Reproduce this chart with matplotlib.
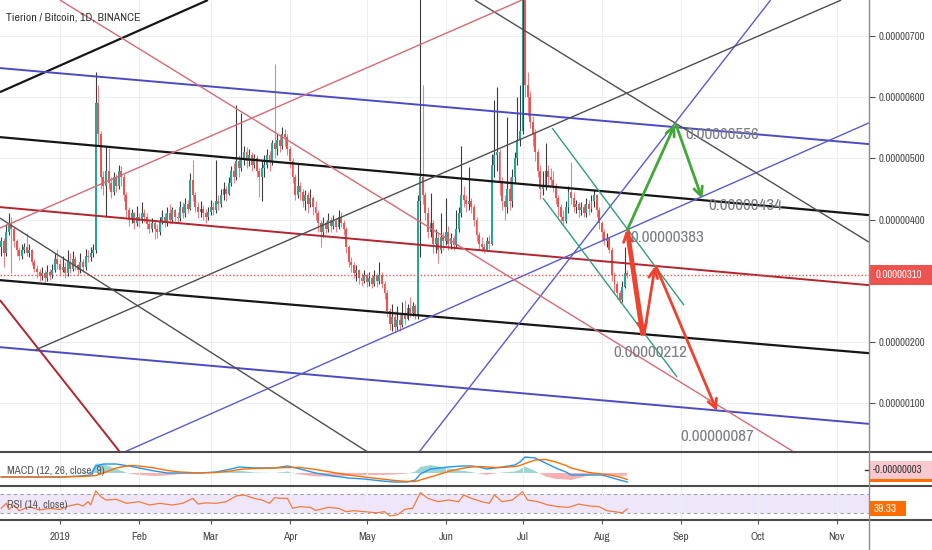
import numpy as np
import pandas as pd
import matplotlib
matplotlib.use("Agg")
import matplotlib.pyplot as plt
import matplotlib.transforms as mtransforms
from matplotlib.lines import Line2D
from matplotlib.patches import Rectangle
from matplotlib import font_manager

# prices are in satoshi (1 = 0.00000001 BTC), one candle per day
start_date = "2018-12-09"
first_open = 355
close = [365, 345, 380, 395, 385, 365, 350, 340, 350, 355, 345, 350, 330, 320, 315, 308, 312, 305, 315, 310, 318, 335, 328,
         318, 322, 312, 330, 320, 335, 325, 318, 330, 322, 340, 338, 345, 350,
         590, 540, 470, 455, 480, 460, 445, 470, 455, 480, 470, 440, 415, 400, 410, 395,
         405, 398, 410, 405, 392, 385, 395, 385, 380, 398, 405, 395, 410, 400, 415, 405, 402, 420, 410, 425,
         418, 465, 440, 420, 412, 418, 410, 405, 412, 420, 415, 430, 425, 440, 450, 442, 460, 480, 470, 495,
         485, 500, 510, 495, 505, 490, 500, 480, 470, 485, 490, 505, 495, 525, 515, 530, 520, 540, 535, 515,
         495, 470, 440, 455, 445, 430, 440, 425, 435, 420, 410, 395, 380, 395, 385, 400, 390, 398, 388, 405,
         395, 385, 355, 330, 325, 312, 318, 305, 300, 310, 298, 305, 295, 308, 300, 310, 295, 280, 250, 230,
         240, 225, 235, 228, 245, 238, 255, 248, 258, 245, 430, 470, 440, 410, 380, 395, 360, 370, 350, 372,
         365, 380, 360, 370, 358, 385, 410, 440, 432, 425, 430, 420, 400, 375, 360, 355, 350, 365, 360, 490,
         505, 510, 460, 430, 420, 450, 430, 470, 500, 530, 545, 790, 620, 600, 560, 540, 510, 480, 450, 455,
         480, 470, 465, 455, 435, 420, 405, 398, 420, 445, 435, 420, 425, 415, 420, 410, 425, 418, 430, 440,
         415, 395, 380, 365, 370, 350, 310, 295, 280, 268, 290, 312, 310]
high = [372, 370, 392, 410, 404, 388, 368, 355, 360, 362, 378, 360, 352, 335, 325, 320, 322, 318, 325, 320, 328, 345, 352,
        335, 340, 330, 350, 345, 348, 340, 328, 345, 336, 352, 350, 355, 360,
        641, 620, 545, 480, 518, 517, 470, 478, 475, 490, 488, 475, 445, 420, 418, 412,
        422, 410, 428, 418, 410, 398, 402, 398, 392, 405, 416, 410, 420, 425, 420, 418, 412, 430, 428, 436,
        432, 476, 497, 445, 428, 430, 424, 418, 420, 432, 428, 497, 440, 450, 462, 455, 470, 488, 492, 587,
        505, 574, 520, 518, 515, 510, 508, 505, 485, 495, 505, 515, 512, 530, 655, 540, 540, 551, 548, 540,
        520, 500, 475, 492, 462, 450, 448, 445, 450, 438, 430, 415, 400, 405, 398, 410, 404, 408, 402, 415,
        412, 400, 388, 358, 338, 330, 326, 320, 312, 318, 312, 315, 310, 318, 312, 330, 315, 300, 285, 255,
        262, 250, 258, 245, 265, 268, 262, 273, 265, 262, 440, 900, 620, 445, 420, 443, 400, 385, 378, 410,
        380, 435, 390, 378, 375, 415, 420, 521, 455, 440, 486, 435, 425, 405, 380, 372, 362, 372, 375, 508,
        595, 617, 515, 470, 440, 568, 470, 482, 510, 600, 620, 800, 795, 641, 610, 570, 548, 515, 490, 480,
        525, 490, 485, 480, 460, 440, 425, 415, 430, 455, 494, 445, 432, 428, 428, 425, 435, 432, 440, 448,
        442, 420, 398, 385, 378, 372, 355, 315, 300, 285, 300, 355, 318]
low = [340, 322, 340, 375, 312, 355, 340, 334, 336, 345, 340, 338, 325, 315, 305, 300, 302, 298, 300, 302, 305, 315, 320,
       310, 315, 305, 308, 312, 316, 318, 310, 312, 315, 318, 330, 332, 338,
       345, 520, 450, 440, 405, 450, 435, 440, 445, 450, 455, 430, 405, 390, 395, 385,
       390, 388, 395, 396, 385, 378, 380, 368, 370, 375, 392, 388, 390, 392, 395, 398, 395, 398, 402, 405,
       410, 415, 430, 412, 402, 405, 400, 395, 400, 408, 408, 410, 415, 420, 432, 430, 440, 455, 460, 465,
       470, 480, 490, 485, 488, 480, 485, 470, 437, 430, 470, 485, 480, 490, 500, 505, 510, 515, 520, 505,
       485, 460, 432, 435, 432, 420, 415, 410, 420, 408, 400, 380, 355, 372, 378, 380, 380, 385, 380, 385,
       388, 375, 345, 322, 315, 305, 300, 295, 292, 296, 290, 292, 288, 292, 290, 295, 288, 270, 240, 220,
       218, 216, 220, 218, 225, 230, 235, 240, 242, 238, 238, 339, 425, 400, 370, 372, 345, 345, 329, 345,
       350, 358, 350, 352, 350, 355, 380, 405, 420, 412, 415, 410, 390, 365, 350, 348, 345, 348, 352, 358,
       470, 480, 440, 415, 400, 410, 415, 420, 460, 490, 520, 540, 600, 570, 550, 520, 495, 470, 433, 440,
       448, 455, 455, 445, 425, 405, 392, 390, 395, 410, 425, 412, 410, 405, 408, 405, 405, 408, 412, 420,
       405, 385, 365, 358, 355, 345, 300, 280, 270, 263, 265, 288, 305]

month_labels = ["2019", "Feb", "Mar", "Apr", "May", "Jun", "Jul", "Aug", "Sep", "Oct", "Nov"]
price_ticks = [100, 200, 300, 400, 500, 600, 700]
last_price = 310

# drawn trend lines: (day, price) -> (day, price), day 0 = 2019-01-01
trend_lines = [((-23.5, 608.4), (57.9, 758.9)),
               ((-23.5, 647.7), (316.6, 523.4)),
               ((-23.5, 534.8), (316.6, 407.3)),
               ((-23.5, 420.4), (316.6, 292.8)),
               ((-23.5, 301.0), (316.6, 181.6)),
               ((-23.5, 191.4), (316.6, 66.0)),
               ((-23.5, 268.3), (23.5, 19.7)),
               ((23.5, 16.8), (316.6, 558.2)),
               ((140.5, 19.7), (278.1, 758.9)),
               ((-9.8, 186.5), (305.7, 758.9)),
               ((-23.5, 402.4), (120.5, 19.7)),
               ((162.4, 758.9), (316.6, 363.1)),
               ((0.0, 758.9), (287.3, 19.7)),
               ((-23.5, 386.0), (180.8, 758.9)),
               ((189.0, 435.1), (241.5, 142.4)),
               ((192.6, 549.6), (244.2, 260.1))]
trend_kinds = ["black", "blue", "black", "darkred", "black", "blue", "darkred", "blue_thin",
               "blue_thin", "gray", "gray", "gray", "pink", "pink", "green", "green"]

red_arrows = [((227.6, 212), (221.6, 383)), ((222.4, 383), (228.5, 212)),
              ((228.6, 212), (232.9, 324)), ((233.2, 324), (257.1, 87))]
green_arrows = [((222.0, 383), (240.7, 556)), ((241.0, 556), (251.3, 434))]
target_prices = [556, 434, 383, 212, 87]
target_label_at = [(244.7, 539), (253.6, 423.6), (223.1, 371.3), (216.4, 183.3), (242.7, 45.9)]

macd_days = [-23, -12, 0, 8, 12, 14, 17, 22, 27, 31, 37, 42, 47, 55, 61, 67, 70, 76, 84, 89, 94, 100,
             107, 113, 119, 126, 131, 136, 139, 141, 145, 152, 157, 161, 164, 167, 170, 173, 178, 180,
             182, 186, 190, 194, 198, 200, 207, 212, 215, 219, 222]
macd_line = [-8, -8, -8, -6, -4, 14, 18, 18, 14, 10, 4, 0, 0, 0, 2, 8, 12, 10, 10, 14, 8, 0,
             -6, -10, -12, -16, -18, -18, -14, -2, 8, 12, 14, 14, 12, 8, 10, 12, 16, 22,
             32, 30, 20, 10, 2, -4, -4, -4, -8, -14, -18]
macd_signal = [-8, -8, -8, -7, -6, -5, 0, 10, 15, 14, 10, 5, 2, 0, 1, 4, 7, 9, 10, 11, 11, 7,
               1, -4, -8, -12, -15, -17, -17, -14, -8, 3, 9, 12, 13, 12, 11, 11, 13, 15,
               19, 26, 27, 22, 15, 10, 1, -2, -4, -8, -13]
macd_last = -3

rsi_days = [-23, -21, -20, -18, -16, -12, -8, -4, 0, 3, 7, 9, 11, 12, 14, 16, 18, 22, 26, 31, 35, 39,
            44, 48, 52, 54, 57, 61, 65, 69, 72, 76, 79, 82, 84, 86, 89, 91, 94, 98, 100, 105, 109,
            112, 115, 119, 124, 127, 129, 132, 135, 138, 141, 144, 148, 152, 156, 158, 161, 165, 168,
            170, 173, 177, 179, 181, 183, 187, 191, 195, 199, 203, 207, 211, 214, 217, 220, 222]
rsi_vals = [40.5, 51, 38, 47.5, 35.5, 44, 37, 40.5, 38, 45, 49.5, 45, 54.5, 47.5, 77.5, 65, 58, 59.5,
            51, 54.5, 47.5, 51, 47.5, 51, 61.5, 49.5, 52, 51, 54.5, 66.5, 68.5, 61.5, 58, 51, 63, 61.5,
            61.5, 40.5, 44, 42.5, 36, 42.5, 40.5, 33.5, 35.5, 33.5, 31, 33.5, 24.5, 26.5, 38.5, 40.5,
            73.5, 61.5, 54.5, 58, 54.5, 68.5, 61.5, 54.5, 51, 68.5, 54.5, 58, 66.5, 75.5, 58, 54.5,
            47.5, 44, 42.5, 49.5, 45.5, 44, 35.5, 33.5, 31, 39.33]
rsi_last = 39.33

# ---- fonts: TradingView text is narrow, use a condensed face if one is installed ----
def pick_narrow():
    found = []
    for f in font_manager.fontManager.ttflist:
        if f.style != "normal" or f.weight not in (400, "normal", "regular"):
            continue
        tag = f.name + " " + str(f.stretch)
        if "Narrow" in tag:
            found.append((0, f.fname))
        elif "Condensed" in f.name or "condensed" in str(f.stretch):
            found.append((1, f.fname))
    found.sort()
    return found[0][1] if found else None


narrow_file = pick_narrow()
if narrow_file:
    fp = font_manager.FontProperties(fname=narrow_file)
    k = 1.0
else:
    fp = font_manager.FontProperties(family="DejaVu Sans")
    k = 0.74


def fprop(size):
    p = fp.copy()
    p.set_size(size * k)
    return p


up_col, down_col = "#26a69a", "#ef5350"
up_wick, down_wick = "#3c3c3c", "#e8838c"
line_styles = {"black": ("#161616", 1.6), "blue": ("#4b4bc6", 1.4), "darkred": ("#b3242c", 1.4),
               "blue_thin": ("#5a5ad2", 1.0), "gray": ("#4f4f4f", 1.0), "pink": ("#d66a74", 1.0),
               "green": ("#2f9e80", 1.0)}
grid_col = "#eceef3"
txt_col = "#4a4a4a"

W, H = 932, 550
fig = plt.figure(figsize=(W / 100, H / 100), dpi=100)
pane_w = 869 / W
main = fig.add_axes([0, 1 - 452 / H, pane_w, 452 / H])
macd_ax = fig.add_axes([0, 1 - 486 / H, pane_w, 34 / H])
rsi_ax = fig.add_axes([0, 1 - 520 / H, pane_w, 34 / H])

day0 = pd.Timestamp("2019-01-01")
offset = (pd.Timestamp(start_date) - day0).days
days = np.arange(offset, offset + len(close))
month_pos = (pd.date_range("2019-01-01", "2019-11-01", freq="MS") - day0).days.values

c = np.array(close, float)
o = np.array([first_open] + close[:-1], float)
hi = np.array(high, float)
lo = np.array(low, float)
rise = c >= o

xlim = (-23.48, 316.6)
for ax in (main, macd_ax, rsi_ax):
    ax.set_xlim(*xlim)
    for s in ax.spines.values():
        s.set_visible(False)
    ax.set_xticks(month_pos)
    ax.grid(axis="x", color=grid_col, lw=0.8, zorder=0)
    ax.set_facecolor("white")

# main price pane; the label under the last-price box is hidden, as on TradingView
main.set_ylim(20, 759)
main.set_yticks(price_ticks)
main.grid(axis="y", color=grid_col, lw=0.8, zorder=0)
main.yaxis.tick_right()
tick_text = [f"{v * 1e-8:.8f}" if abs(v - last_price) > 20 else "" for v in price_ticks]
main.set_yticklabels(tick_text, fontproperties=fprop(7.8))
main.tick_params(axis="y", length=4, width=0.8, color="#555555", labelcolor=txt_col, pad=3)
main.tick_params(axis="x", length=0, labelbottom=False)

main.vlines(days, lo, hi, colors=np.where(rise, up_wick, down_wick), lw=0.8, zorder=2)
main.bar(days, np.abs(c - o), bottom=np.minimum(c, o), width=0.75,
         color=np.where(rise, up_col, down_col), lw=0, zorder=3)

for (p1, p2), kind in zip(trend_lines, trend_kinds):
    col, lw = line_styles[kind]
    main.plot([p1[0], p2[0]], [p1[1], p2[1]], color=col, lw=lw, zorder=4, solid_capstyle="butt")

main.axhline(last_price, color=down_col, lw=1, ls=(0, (1, 1.5)), zorder=4)

for arrows, col in ((red_arrows, "#f0402e"), (green_arrows, "#3fa838")):
    for a, b in arrows:
        main.annotate("", xy=b, xytext=a,
                      arrowprops=dict(arrowstyle="->", color=col, lw=2, shrinkA=0, shrinkB=0,
                                      mutation_scale=16), zorder=5)

for p, (dx, dy) in zip(target_prices, target_label_at):
    main.text(dx, dy, f"{p * 1e-8:.8f}", color="#7b7e86", fontproperties=fprop(12.3),
              va="center", ha="left", zorder=6)

# last price box on the axis
blend = mtransforms.blended_transform_factory(fig.transFigure, main.transData)
box_h = 20 / (452 / (759 - 20))
main.add_patch(Rectangle((870 / W, last_price - box_h / 2), 62 / W, box_h, transform=blend,
                         fc=down_col, ec="none", clip_on=False, zorder=10))
main.text(876 / W, last_price, f"{last_price * 1e-8:.8f}", transform=blend, color="white",
          fontproperties=fprop(7.8), va="center", ha="left", zorder=11, clip_on=False)

# MACD pane
macd_ax.set_ylim(-26, 42)
macd_ax.set_yticks([])
macd_ax.tick_params(axis="x", length=0, labelbottom=False)
md = np.array(macd_days, float)
ml = np.array(macd_line, float)
ms = np.array(macd_signal, float)
hist = ml - ms
macd_ax.fill_between(md, 0, hist, where=hist >= 0, color=up_col, alpha=0.45, lw=0, interpolate=True)
macd_ax.fill_between(md, 0, hist, where=hist < 0, color=down_col, alpha=0.45, lw=0, interpolate=True)
macd_ax.plot(md, ml, color="#2196f3", lw=1)
macd_ax.plot(md, ms, color="#ff6d00", lw=1)

fig.add_artist(Rectangle((870 / W, 1 - 482 / H), 62 / W, 4 / H, fc="#ff6d00", ec="none"))
fig.add_artist(Rectangle((870 / W, 1 - 479 / H), 62 / W, 18 / H, fc="#f9c8cf", ec="none"))
fig.add_artist(Line2D([865 / W, 868 / W], [1 - 470 / H] * 2, color="#333333", lw=1))
fig.text(873 / W, 1 - 470 / H, f"{macd_last * 1e-8:.8f}", color="#333333", fontproperties=fprop(7.8),
         va="center")

# RSI pane
rsi_ax.set_ylim(15.9, 87.5)
rsi_ax.set_yticks([])
rsi_ax.axhspan(30, 70, color="#efe6fb", lw=0, zorder=0)
for lvl in (30, 70):
    rsi_ax.axhline(lvl, color="#a0a0a8", lw=0.8, ls=(0, (3, 3)), zorder=1)
rsi_ax.plot(rsi_days, rsi_vals, color="#f47a3c", lw=0.9, zorder=2)
rsi_ax.set_xticklabels(month_labels, fontproperties=fprop(8.2))
rsi_ax.tick_params(axis="x", length=3, width=0.8, color="#555555", labelcolor=txt_col, pad=6)

blend_r = mtransforms.blended_transform_factory(fig.transFigure, rsi_ax.transData)
rh = 15 / (34 / (87.5 - 15.9))
rsi_ax.add_patch(Rectangle((870 / W, rsi_last - rh / 2), 36 / W, rh, transform=blend_r,
                           fc="#ff6d00", ec="none", clip_on=False, zorder=10))
rsi_ax.text(874 / W, rsi_last, f"{rsi_last:.2f}", transform=blend_r, color="white",
            fontproperties=fprop(8), va="center", zorder=11, clip_on=False)

# pane labels and separators
fig.text(6 / W, 1 - 18 / H, "Tierion / Bitcoin, 1D, BINANCE", color="#333333", fontproperties=fprop(8.4),
         va="center")
fig.text(7 / W, 1 - 471 / H, "MACD (12, 26, close, 9)", color="#555555", fontproperties=fprop(8),
         va="center")
fig.text(7 / W, 1 - 505 / H, "RSI (14, close)", color="#555555", fontproperties=fprop(8), va="center")

for yp in (452, 486, 520):
    fig.add_artist(Line2D([0, 1], [1 - yp / H] * 2, color="#4a4a4a", lw=1.5))
fig.add_artist(Line2D([869 / W] * 2, [0, 1], color="#8c8c8c", lw=1))

fig.savefig("out.png", dpi=100)
